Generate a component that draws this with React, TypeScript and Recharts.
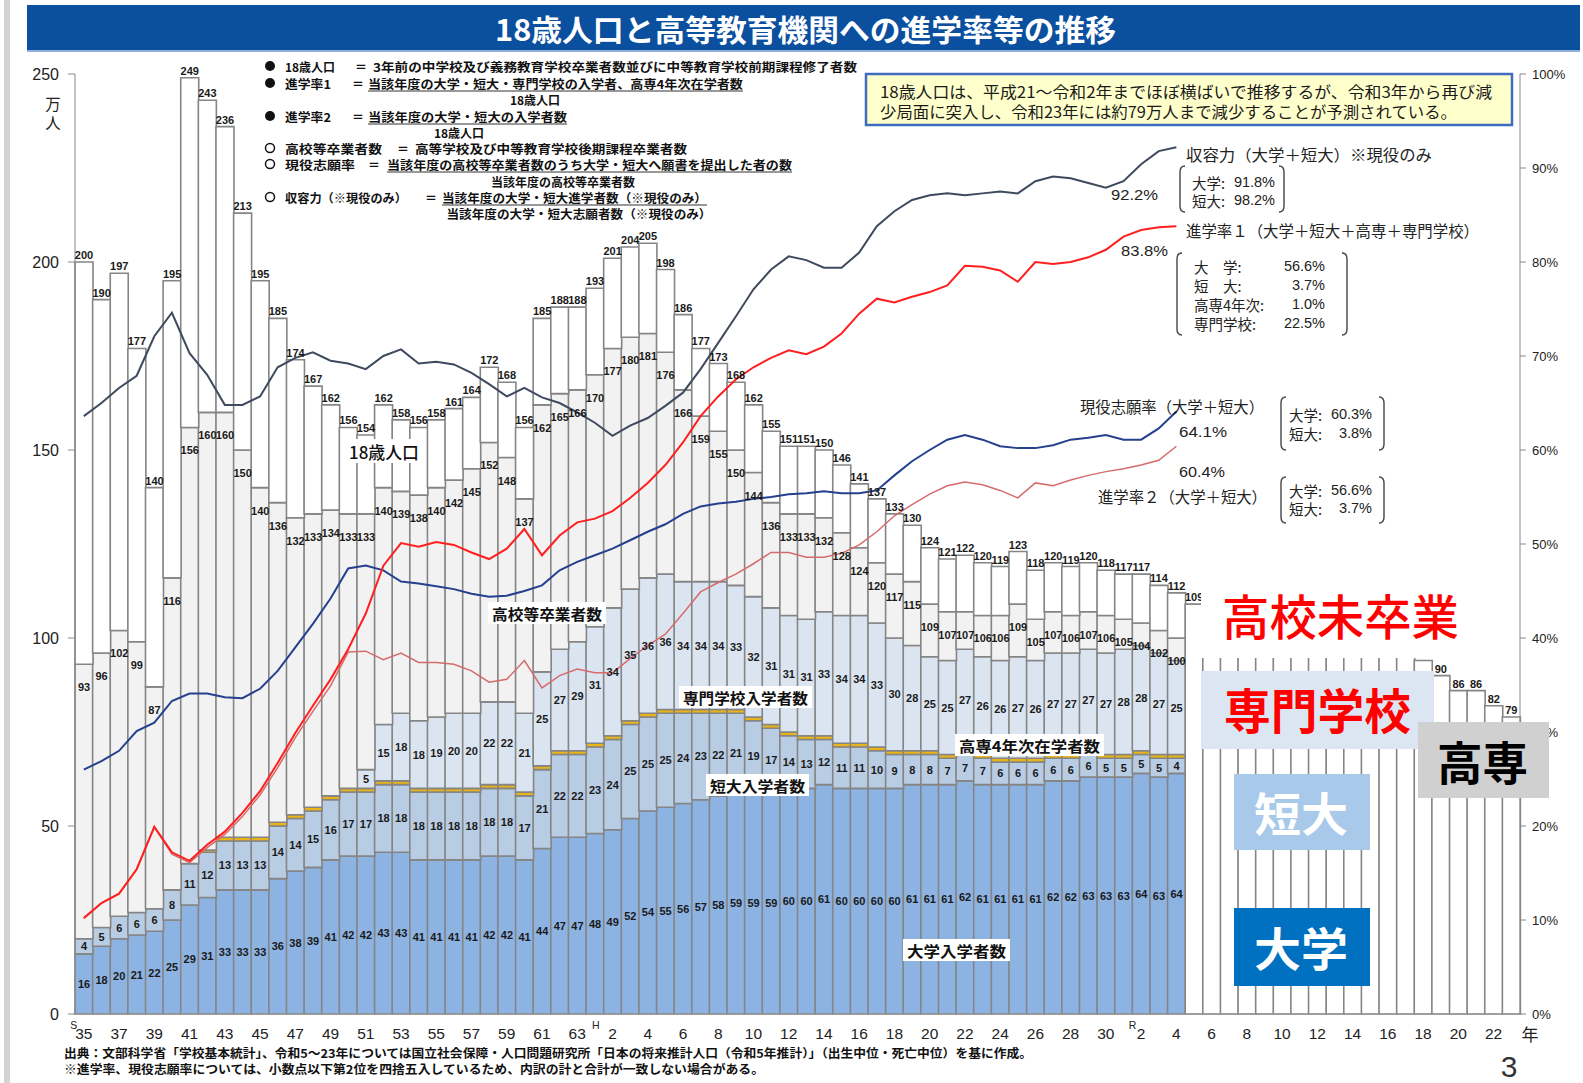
import type { ReactElement } from "react";
import { Bar, ComposedChart, LabelList, Line, XAxis, YAxis } from "recharts";

const CJK = '"Noto Sans CJK JP", "Noto Sans", sans-serif';
const NUM = '"Liberation Sans", Arial, sans-serif';

// 和暦（昭和35年〜令和23年）
const eraSpans: Array<[string, number, number]> = [
  ["S", 35, 63],
  ["H", 1, 30],
  ["R", 1, 23]
];
const years = eraSpans.flatMap(([era, from, to]) =>
  Array.from({ length: to - from + 1 }, (_, k) => `${era}${from + k}`)
);

// 18歳人口（万人）令和5年以降は推計
const population = [
  200, 190, 197, 177, 140, 195, 249, 243, 236, 213,
  195, 185, 174, 167, 162, 156, 154, 162, 158, 156,
  158, 161, 164, 172, 168, 156, 185, 188, 188, 193,
  201, 204, 205, 198, 186, 177, 173, 168, 162, 155,
  151, 151, 150, 146, 141, 137, 133, 130, 124, 121,
  122, 120, 119, 123, 118, 120, 119, 120, 118, 117,
  117, 114, 112, 109, 106, 109, 109, 106, 109, 107,
  104, 102, 101, 100, 97, 96, 94, 90, 86, 86,
  82, 79
];

// 高校等卒業者数
const graduates = [
  93, 96, 102, 99, 87, 116, 156, 160, 160, 150,
  140, 136, 132, 133, 134, 133, 133, 140, 139, 138,
  140, 142, 145, 152, 148, 137, 162, 165, 166, 170,
  177, 180, 181, 176, 166, 159, 155, 150, 144, 136,
  133, 133, 132, 128, 124, 120, 117, 115, 109, 107,
  107, 106, 106, 109, 105, 107, 106, 107, 106, 105,
  104, 102, 100
];

// 大学入学者数
const university = [
  16, 18, 20, 21, 22, 25, 29, 31, 33, 33,
  33, 36, 38, 39, 41, 42, 42, 43, 43, 41,
  41, 41, 41, 42, 42, 41, 44, 47, 47, 48,
  49, 52, 54, 55, 56, 57, 58, 59, 59, 59,
  60, 60, 61, 60, 60, 60, 60, 61, 61, 61,
  62, 61, 61, 61, 61, 62, 62, 63, 63, 63,
  64, 63, 64
];

// 短大入学者数
const juniorCollege = [
  4, 5, 6, 6, 6, 8, 11, 12, 13, 13,
  13, 14, 14, 15, 16, 17, 17, 18, 18, 18,
  18, 18, 18, 18, 18, 17, 21, 22, 22, 23,
  24, 25, 25, 25, 24, 23, 22, 21, 19, 17,
  14, 13, 12, 11, 11, 10, 9, 8, 8, 7,
  7, 7, 6, 6, 6, 6, 6, 6, 5, 5,
  5, 5, 4
];

// 高専4年次在学者数
const kosen = [
  0, 0, 0, 0, 0, 0, 0, 0.6, 1, 1,
  1, 1, 1, 1, 1, 1, 1, 1, 1, 1,
  1, 1, 1, 1, 1, 1, 1, 1, 1, 1,
  1, 1, 1, 1, 1, 1, 1, 1, 1, 1,
  1, 1, 1, 1, 1, 1, 1, 1, 1, 1,
  1, 1, 1, 1, 1, 1, 1, 1, 1, 1,
  1, 1, 1
];

// 専門学校入学者数
const vocational = [
  0, 0, 0, 0, 0, 0, 0, 0, 0, 0,
  0, 0, 0, 0, 0, 0, 5, 15, 18, 18,
  19, 20, 20, 22, 22, 21, 25, 27, 29, 31,
  34, 35, 36, 36, 34, 34, 34, 33, 32, 31,
  31, 31, 33, 34, 34, 33, 30, 28, 25, 25,
  27, 26, 26, 27, 26, 27, 27, 27, 27, 28,
  28, 27, 25
];

// 収容力（大学＋短大）※現役のみ（%）
const capacity = [
  63.6, 65.0, 66.6, 67.9, 72.1, 74.6, 70.3, 68.0, 64.8, 64.8,
  65.7, 68.8, 69.8, 70.4, 69.5, 69.2, 68.6, 70.0, 70.7, 69.2,
  69.4, 69.1, 68.2, 67.0, 65.7, 66.6, 65.6, 65.0, 64.0, 62.9,
  61.5, 62.6, 63.4, 64.7, 66.1, 68.6, 71.4, 74.2, 77.1, 79.2,
  80.6, 80.2, 79.4, 79.4, 81.0, 83.8, 85.4, 86.6, 87.1, 87.3,
  87.1, 87.3, 87.5, 87.3, 88.6, 89.1, 88.9, 88.4, 87.9, 88.6,
  90.4, 91.8, 92.2
];

// 進学率1（大学＋短大＋高専＋専門学校）
const rate1 = [
  10.2, 11.8, 12.8, 15.4, 19.9, 17.2, 16.3, 18.0, 19.4, 21.4,
  23.7, 26.7, 29.9, 32.8, 35.6, 38.8, 42.6, 47.7, 50.1, 49.7,
  50.2, 49.9, 49.1, 48.4, 49.5, 51.6, 48.8, 50.9, 52.3, 52.7,
  53.5, 54.9, 56.5, 58.4, 60.8, 63.6, 65.7, 67.5, 68.8, 69.8,
  70.6, 70.2, 71.0, 72.4, 74.5, 76.1, 75.7, 76.3, 76.8, 77.5,
  79.6, 79.5, 79.1, 77.9, 80.0, 79.8, 80.0, 80.5, 81.3, 82.7,
  83.4, 83.7, 83.8
];

// 現役志願率（大学＋短大）
const applyRate = [
  26.0, 26.9, 28.0, 30.1, 31.0, 33.3, 34.1, 34.1, 33.7, 33.6,
  34.6, 36.5, 39.0, 41.5, 44.2, 47.4, 47.7, 47.2, 46.0, 45.8,
  45.5, 45.2, 44.7, 44.4, 44.5, 45.0, 45.6, 47.2, 48.1, 48.8,
  49.5, 50.4, 51.3, 52.1, 53.2, 54.0, 54.3, 54.5, 54.8, 55.0,
  55.3, 55.4, 55.6, 55.4, 55.4, 55.7, 57.3, 58.8, 60.0, 61.1,
  61.6, 61.1, 60.4, 60.2, 60.2, 60.5, 61.1, 61.3, 61.6, 61.1,
  61.1, 62.3, 64.1
];

// 進学率2（大学＋短大）
const rate2 = [
  10.2, 11.8, 12.8, 15.4, 19.9, 17.0, 16.1, 17.7, 19.1, 21.0,
  23.3, 26.2, 29.4, 32.2, 34.9, 38.5, 38.6, 37.7, 38.4, 37.4,
  37.4, 37.2, 36.5, 35.3, 35.6, 37.6, 34.7, 36.0, 36.7, 36.3,
  36.3, 37.8, 39.2, 40.4, 42.6, 44.9, 45.9, 46.8, 47.9, 49.1,
  49.1, 48.6, 48.6, 49.0, 49.9, 51.3, 53.0, 54.2, 55.3, 56.2,
  56.6, 56.3, 55.7, 54.9, 56.5, 56.2, 56.8, 57.3, 57.7, 58.0,
  58.4, 58.9, 60.4
];

const leftTicks = [0, 50, 100, 150, 200, 250];
const rightTicks = [0, 10, 20, 30, 40, 50, 60, 70, 80, 90, 100];

// R6〜R18 の人口ラベルは「高校未卒業」の注記に隠れている
const noteCovered = (i: number): boolean => i > graduates.length && i < 77;

const rows = years.map((name, i) => {
  const actual = i < graduates.length;
  const u = actual ? university[i] : 0;
  const j = actual ? juniorCollege[i] : 0;
  const k = actual ? kosen[i] : 0;
  const v = actual ? vocational[i] : 0;
  const g = actual ? graduates[i] : 0;
  return {
    name,
    univ: u,
    jc: j,
    kosen: k,
    voc: v,
    gradRest: actual ? g - (u + j + k + v) : 0,
    popRest: population[i] - g,
    popTotal: noteCovered(i) ? null : population[i],
    gradTotal: actual ? g : null,
    capacity: actual ? capacity[i] : null,
    rate1: actual ? rate1[i] : null,
    apply: actual ? applyRate[i] : null,
    rate2: actual ? rate2[i] : null
  };
});

const rectOf = (p: any) => {
  const vb = p.viewBox ?? {};
  return {
    x: Number(p.x ?? vb.x),
    y: Number(p.y ?? vb.y),
    width: Number(p.width ?? vb.width),
    height: Number(p.height ?? vb.height)
  };
};

const numStyle = { fontFamily: NUM, fontSize: 11, fontWeight: 700, fill: "#1a1a1a" };

const centerLabel = (p: any) => {
  if (p.value == null || p.value === 0) return null;
  const r = rectOf(p);
  return (
    <text x={r.x + r.width / 2} y={r.y + r.height / 2} textAnchor="middle" dominantBaseline="central" {...numStyle}>
      {p.value}
    </text>
  );
};

const gradLabel = (p: any) => {
  if (p.value == null) return null;
  const r = rectOf(p);
  return (
    <text x={r.x + r.width / 2} y={r.y + 23} textAnchor="middle" dominantBaseline="central" {...numStyle}>
      {p.value}
    </text>
  );
};

const popLabel = (p: any) => {
  if (p.value == null) return null;
  const r = rectOf(p);
  return (
    <text x={r.x + r.width / 2} y={r.y - 7} textAnchor="middle" dominantBaseline="central" {...numStyle}>
      {p.value}
    </text>
  );
};

function YearTick(props: any): ReactElement {
  const { x, y, payload } = props;
  const index = payload?.index ?? props.index ?? 0;
  const name = String(payload?.value ?? "");
  const era = name.charAt(0);
  const num = Number(name.slice(1));
  return (
    <g>
      {index % 2 === 0 && (
        <text x={x} y={y + 19} textAnchor="middle" dominantBaseline="central" fontFamily={NUM} fontSize={15.5} fill="#222">
          {num}
        </text>
      )}
      {index === 0 && (
        <text x={x - 10} y={y + 11} textAnchor="middle" dominantBaseline="central" fontFamily={NUM} fontSize={10.5} fill="#222">
          S
        </text>
      )}
      {index > 0 && num === 1 && (
        <text x={x + (era === "H" ? 1 : 9)} y={y + 11} textAnchor="middle" dominantBaseline="central" fontFamily={NUM} fontSize={10.5} fill="#222">
          {era}
        </text>
      )}
    </g>
  );
}

type TProps = {
  x: number;
  y: number;
  children: string;
  size?: number;
  len?: number;
  anchor?: "start" | "middle" | "end";
  fill?: string;
  weight?: number | string;
  family?: string;
};

function T({ x, y, children, size = 12, len, anchor = "start", fill = "#111", weight = 400, family = CJK }: TProps): ReactElement {
  return (
    <text
      x={x}
      y={y}
      fontSize={size}
      textAnchor={anchor}
      dominantBaseline="central"
      fill={fill}
      fontWeight={weight}
      fontFamily={family}
      {...(len ? { textLength: len, lengthAdjust: "spacingAndGlyphs" } : {})}
    >
      {children}
    </text>
  );
}

function Brackets({ x, y, w, h }: { x: number; y: number; w: number; h: number }): ReactElement {
  const l = `M${x + 6},${y} Q${x + 1},${y} ${x + 1},${y + 6} L${x + 1},${y + h - 6} Q${x + 1},${y + h} ${x + 6},${y + h}`;
  const rx = x + w;
  const r = `M${rx - 6},${y} Q${rx - 1},${y} ${rx - 1},${y + 6} L${rx - 1},${y + h - 6} Q${rx - 1},${y + h} ${rx - 6},${y + h}`;
  return (
    <g fill="none" stroke="#444" strokeWidth={1.4}>
      <path d={l} />
      <path d={r} />
    </g>
  );
}

function Tag({ x, y, w, text, len, size = 15 }: { x: number; y: number; w: number; text: string; len: number; size?: number }): ReactElement {
  return (
    <g>
      <rect x={x - 4} y={y - 11} width={w} height={22} fill="#fff" />
      <T x={x} y={y} size={size} len={len} weight={700} fill="#111">{text}</T>
    </g>
  );
}

function Overlay(): ReactElement {
  const legendY = [66, 83, 116, 148, 164, 197];
  return (
    <svg width={1583} height={1083} style={{ position: "absolute", left: 0, top: 0, pointerEvents: "none" }}>
      {/* left strip and title */}
      <rect x={4} y={0} width={6} height={1083} fill="#d3d3d3" />
      <rect x={27} y={5} width={1553} height={46} fill="#0b4f9f" />
      <rect x={27} y={50} width={1553} height={2} fill="#8fb0dc" />
      <T x={495} y={28} size={30} len={621} weight={700} fill="#fff">18歳人口と高等教育機関への進学率等の推移</T>

      {/* definitions */}
      <g>
        {[0, 1, 2].map((n) => (
          <circle key={n} cx={270} cy={legendY[n]} r={5} fill="#111" />
        ))}
        {[3, 4, 5].map((n) => (
          <circle key={n} cx={270} cy={legendY[n]} r={4.5} fill="#fff" stroke="#111" strokeWidth={1.5} />
        ))}
        <T x={285} y={66} weight={700} len={50}>18歳人口</T>
        <T x={355} y={66} weight={700}>＝</T>
        <T x={373} y={66} weight={700} len={484}>3年前の中学校及び義務教育学校卒業者数並びに中等教育学校前期課程修了者数</T>

        <T x={285} y={83} weight={700} len={46}>進学率1</T>
        <T x={352} y={83} weight={700}>＝</T>
        <T x={368} y={83} weight={700} len={375}>当該年度の大学・短大・専門学校の入学者、高専4年次在学者数</T>
        <line x1={368} x2={743} y1={91} y2={91} stroke="#333" strokeWidth={1} />
        <T x={535} y={99} anchor="middle" weight={700}>18歳人口</T>

        <T x={285} y={116} weight={700} len={46}>進学率2</T>
        <T x={352} y={116} weight={700}>＝</T>
        <T x={368} y={116} weight={700} len={199}>当該年度の大学・短大の入学者数</T>
        <line x1={368} x2={567} y1={124} y2={124} stroke="#333" strokeWidth={1} />
        <T x={459} y={132} anchor="middle" weight={700}>18歳人口</T>

        <T x={285} y={148} weight={700} len={97}>高校等卒業者数</T>
        <T x={397} y={148} weight={700}>＝</T>
        <T x={415} y={148} weight={700} len={272}>高等学校及び中等教育学校後期課程卒業者数</T>

        <T x={285} y={164} weight={700} len={70}>現役志願率</T>
        <T x={368} y={164} weight={700}>＝</T>
        <T x={387} y={164} weight={700} len={405}>当該年度の高校等卒業者数のうち大学・短大へ願書を提出した者の数</T>
        <line x1={387} x2={792} y1={172} y2={172} stroke="#333" strokeWidth={1} />
        <T x={563} y={181} anchor="middle" weight={700}>当該年度の高校等卒業者数</T>

        <T x={285} y={197} weight={700} len={122}>収容力（※現役のみ）</T>
        <T x={425} y={197} weight={700}>＝</T>
        <T x={442} y={197} weight={700} len={265}>当該年度の大学・短大進学者数（※現役のみ）</T>
        <line x1={442} x2={707} y1={205} y2={205} stroke="#333" strokeWidth={1} />
        <T x={579} y={213} anchor="middle" weight={700} len={265}>当該年度の大学・短大志願者数（※現役のみ）</T>
      </g>

      {/* note box */}
      <rect x={866} y={74} width={646} height={51} fill="#ffffcc" stroke="#3f6cc0" strokeWidth={2.5} />
      <T x={880} y={91} size={15.5} len={612} fill="#1a1a1a">18歳人口は、平成21～令和2年までほぼ横ばいで推移するが、令和3年から再び減</T>
      <T x={880} y={111} size={15.5} len={577} fill="#1a1a1a">少局面に突入し、令和23年には約79万人まで減少することが予測されている。</T>

      {/* line annotations */}
      <T x={1186} y={154} size={15.5} len={246} fill="#222">収容力（大学＋短大）※現役のみ</T>
      <T x={1111} y={194} size={15} len={47} fill="#222" family={NUM}>92.2%</T>
      <Brackets x={1179} y={166} w={106} h={46} />
      <T x={1192} y={182} size={14.5} fill="#222">大学:</T>
      <T x={1275} y={182} size={14.5} anchor="end" fill="#222" family={NUM}>91.8%</T>
      <T x={1192} y={200} size={14.5} fill="#222">短大:</T>
      <T x={1275} y={200} size={14.5} anchor="end" fill="#222" family={NUM}>98.2%</T>

      <T x={1186} y={230} size={15.5} len={293} fill="#222">進学率１（大学＋短大＋高専＋専門学校）</T>
      <T x={1121} y={250} size={15} len={47} fill="#222" family={NUM}>83.8%</T>
      <Brackets x={1176} y={253} w={172} h={82} />
      <T x={1194} y={266} size={14.5} fill="#222">大　学:</T>
      <T x={1325} y={266} size={14.5} anchor="end" fill="#222" family={NUM}>56.6%</T>
      <T x={1194} y={285} size={14.5} fill="#222">短　大:</T>
      <T x={1325} y={285} size={14.5} anchor="end" fill="#222" family={NUM}>3.7%</T>
      <T x={1194} y={304} size={14.5} fill="#222">高専4年次:</T>
      <T x={1325} y={304} size={14.5} anchor="end" fill="#222" family={NUM}>1.0%</T>
      <T x={1194} y={323} size={14.5} fill="#222">専門学校:</T>
      <T x={1325} y={323} size={14.5} anchor="end" fill="#222" family={NUM}>22.5%</T>

      <T x={1080} y={406} size={15.5} len={184} fill="#222">現役志願率（大学＋短大）</T>
      <T x={1179} y={431} size={15} len={48} fill="#222" family={NUM}>64.1%</T>
      <Brackets x={1280} y={397} w={105} h={53} />
      <T x={1289} y={414} size={14.5} fill="#222">大学:</T>
      <T x={1372} y={414} size={14.5} anchor="end" fill="#222" family={NUM}>60.3%</T>
      <T x={1289} y={433} size={14.5} fill="#222">短大:</T>
      <T x={1372} y={433} size={14.5} anchor="end" fill="#222" family={NUM}>3.8%</T>

      <T x={1179} y={471} size={15} len={46} fill="#222" family={NUM}>60.4%</T>
      <T x={1098} y={496} size={15.5} len={169} fill="#222">進学率２（大学＋短大）</T>
      <Brackets x={1280} y={477} w={105} h={46} />
      <T x={1289} y={490} size={14.5} fill="#222">大学:</T>
      <T x={1372} y={490} size={14.5} anchor="end" fill="#222" family={NUM}>56.6%</T>
      <T x={1289} y={508} size={14.5} fill="#222">短大:</T>
      <T x={1372} y={508} size={14.5} anchor="end" fill="#222" family={NUM}>3.7%</T>

      {/* series tags */}
      <rect x={344} y={439} width={80} height={24} fill="#fff" />
      <T x={349} y={451} size={17} len={70} weight={500} fill="#111">18歳人口</T>
      <Tag x={492} y={613} w={118} text="高校等卒業者数" len={110} />
      <Tag x={683} y={697} w={133} text="専門学校入学者数" len={125} />
      <Tag x={710} y={785} w={103} text="短大入学者数" len={95} />
      <Tag x={959} y={745} w={149} text="高専4年次在学者数" len={141} />
      <Tag x={907} y={950} w={107} text="大学入学者数" len={99} />

      {/* overlay boxes */}
      <rect x={1201} y={576} width={254} height={82} fill="#fff" />
      <T x={1222} y={614} size={48} len={237} fill="#ff0000" weight={500}>高校未卒業</T>
      <rect x={1201} y={671} width={233} height={78} fill="#dce6f2" />
      <T x={1224} y={708} size={48} len={187} fill="#ff0000" weight={700}>専門学校</T>
      <rect x={1418} y={722} width={131} height={76} fill="#d0d0d0" />
      <T x={1437} y={760} size={46} len={91} fill="#000" weight={700}>高専</T>
      <rect x={1234} y={774} width={136} height={76} fill="#a9c9ea" />
      <T x={1254} y={811} size={46} len={94} fill="#fff" weight={700}>短大</T>
      <rect x={1234} y={908} width={136} height={78} fill="#0070c0" />
      <T x={1254} y={946} size={46} len={94} fill="#fff" weight={700}>大学</T>

      {/* axis captions and notes */}
      <T x={53} y={103} size={15.5} anchor="middle" fill="#222">万</T>
      <T x={53} y={122} size={15.5} anchor="middle" fill="#222">人</T>
      <T x={1530} y={1033} size={17} anchor="middle" fill="#222">年</T>
      <T x={64} y={1052} size={12} len={968} weight={700} fill="#111">出典：文部科学省「学校基本統計」、令和5～23年については国立社会保障・人口問題研究所「日本の将来推計人口（令和5年推計）」（出生中位・死亡中位）を基に作成。</T>
      <T x={64} y={1068} size={12} len={700} weight={700} fill="#111">※進学率、現役志願率については、小数点以下第2位を四捨五入しているため、内訳の計と合計が一致しない場合がある。</T>
      <T x={1509} y={1066} size={30} anchor="middle" fill="#333" family={NUM}>3</T>
    </svg>
  );
}

export default function App(): ReactElement {
  const barStroke = { stroke: "#858585", strokeWidth: 1.6 };
  return (
    <div style={{ position: "absolute", left: 0, top: 0, width: 1583, height: 1083, background: "#fff", overflow: "hidden" }}>
      <ComposedChart width={1583} height={1083} data={rows} margin={{ top: 74, right: 0, bottom: 0, left: 0 }} barCategoryGap={0} barGap={0}>
        <XAxis
          dataKey="name"
          interval={0}
          height={69}
          tickLine={false}
          tickSize={0}
          tickMargin={0}
          axisLine={{ stroke: "#999" }}
          tick={YearTick}
        />
        <YAxis
          yAxisId="left"
          domain={[0, 250]}
          ticks={leftTicks}
          width={75}
          tickSize={7}
          tickMargin={9}
          axisLine={{ stroke: "#888" }}
          tickLine={{ stroke: "#888" }}
          tick={{ fontSize: 16, fill: "#222", fontFamily: NUM }}
        />
        <YAxis
          yAxisId="right"
          orientation="right"
          domain={[0, 100]}
          ticks={rightTicks}
          width={63}
          tickSize={6}
          tickMargin={6}
          tickFormatter={(v: number) => `${v}%`}
          axisLine={{ stroke: "#888" }}
          tickLine={{ stroke: "#888" }}
          tick={{ fontSize: 13, fill: "#222", fontFamily: NUM }}
        />
        <Bar yAxisId="left" dataKey="univ" stackId="s" fill="#8db3e2" {...barStroke} isAnimationActive={false}>
          <LabelList dataKey="univ" content={centerLabel} />
        </Bar>
        <Bar yAxisId="left" dataKey="jc" stackId="s" fill="#b8cce4" {...barStroke} isAnimationActive={false}>
          <LabelList dataKey="jc" content={centerLabel} />
        </Bar>
        <Bar yAxisId="left" dataKey="kosen" stackId="s" fill="#e8b417" {...barStroke} isAnimationActive={false} />
        <Bar yAxisId="left" dataKey="voc" stackId="s" fill="#dbe5f1" {...barStroke} isAnimationActive={false}>
          <LabelList dataKey="voc" content={centerLabel} />
        </Bar>
        <Bar yAxisId="left" dataKey="gradRest" stackId="s" fill="#f2f2f2" {...barStroke} isAnimationActive={false}>
          <LabelList dataKey="gradTotal" content={gradLabel} />
        </Bar>
        <Bar yAxisId="left" dataKey="popRest" stackId="s" fill="#ffffff" {...barStroke} isAnimationActive={false}>
          <LabelList dataKey="popTotal" content={popLabel} />
        </Bar>
        <Line yAxisId="right" dataKey="rate2" type="linear" stroke="#d66b6b" strokeWidth={1.5} dot={false} activeDot={false} isAnimationActive={false} />
        <Line yAxisId="right" dataKey="apply" type="linear" stroke="#24408e" strokeWidth={2} dot={false} activeDot={false} isAnimationActive={false} />
        <Line yAxisId="right" dataKey="rate1" type="linear" stroke="#ff1f1f" strokeWidth={2} dot={false} activeDot={false} isAnimationActive={false} />
        <Line yAxisId="right" dataKey="capacity" type="linear" stroke="#3f4a5e" strokeWidth={2} dot={false} activeDot={false} isAnimationActive={false} />
      </ComposedChart>
      <Overlay />
    </div>
  );
}
